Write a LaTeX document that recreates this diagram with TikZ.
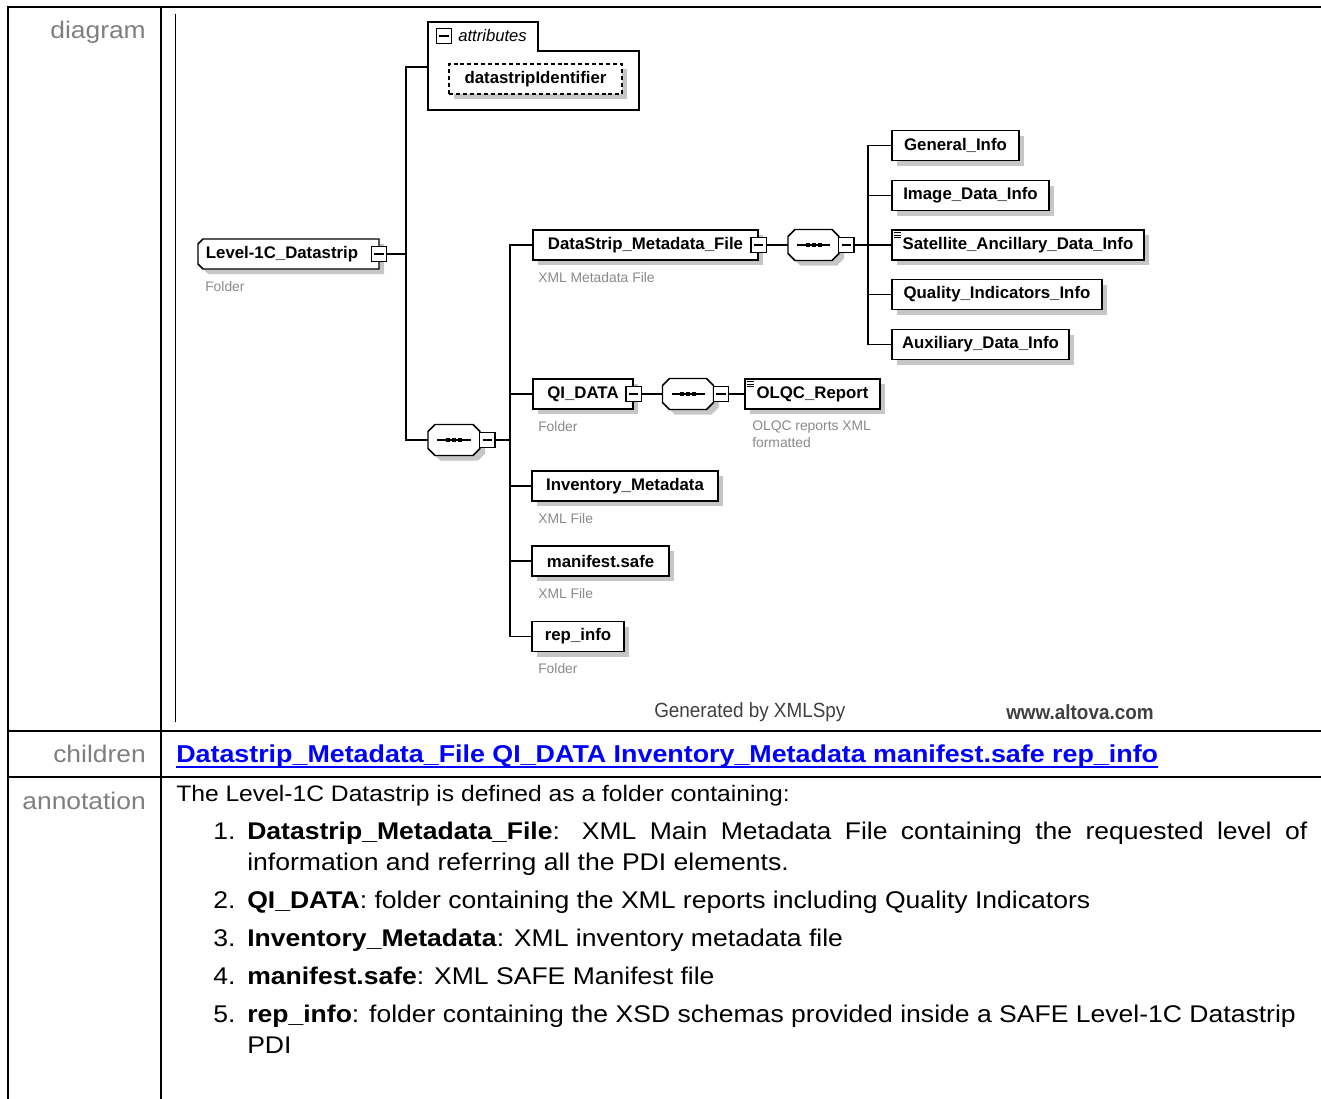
\documentclass[tikz,border=0pt]{standalone}
\usepackage{fontspec}
\setmainfont{Liberation Sans}
\newfontfamily\widesans{Liberation Sans}[FakeStretch=1.1]
\newfontfamily\narrowsans{Liberation Sans}[FakeStretch=0.92]
\usetikzlibrary{shadows,calc}
\newcommand\fElem{\fontsize{12.6}{15}\selectfont\bfseries}
\newcommand\fAttr{\fontsize{12.5}{14}\selectfont\itshape}
\newcommand\fSub{\fontsize{10.4}{12}\selectfont}
\newcommand\fLab{\widesans\fontsize{18}{21}\selectfont}
\newcommand\fBody{\widesans\fontsize{16.8}{20}\selectfont}
\newcommand\fItem{\widesans\fontsize{18.1}{21}\selectfont}
\newcommand\fLink{\widesans\fontsize{18.3}{22}\selectfont\bfseries}
\newcommand\fFoot{\narrowsans\fontsize{15.4}{18}\selectfont}
\definecolor{labgray}{HTML}{7F7F7F}
\definecolor{subgray}{HTML}{8A8A8A}
\definecolor{shadowgray}{HTML}{C6C6C6}
\definecolor{footgray}{HTML}{404040}
\definecolor{linkblue}{HTML}{0000FF}
\newcommand\compositor[1]{%
  \fill[shadowgray] ($(#1.north west)+(12,5)$) -- ($(#1.north east)+(-2,5)$) -- ($(#1.north east)+(5,12)$) -- ($(#1.south east)+(5,-2)$) -- ($(#1.south east)+(-2,5)$) -- ($(#1.south west)+(12,5)$) -- ($(#1.south west)+(5,-2)$) -- ($(#1.north west)+(5,12)$) -- cycle;
  \draw[line width=1.1pt, fill=white] ($(#1.north west)+(7,0)$) -- ($(#1.north east)+(-7,0)$) -- ($(#1.north east)+(0,7)$) -- ($(#1.south east)+(0,-7)$) -- ($(#1.south east)+(-7,0)$) -- ($(#1.south west)+(7,0)$) -- ($(#1.south west)+(0,-7)$) -- ($(#1.north west)+(0,7)$) -- cycle;
  \draw[line width=0.9pt] ($(#1.west)+(9,0)$) -- ($(#1.east)+(-9,0)$);
  \foreach \d in {-6,0,6} \fill ($(#1.center)+(\d-2,-2)$) rectangle +(4,4);
}
\begin{document}
\begin{tikzpicture}[x=0.75pt,y=-0.75pt,
  conn/.style={line width=1.1pt},
  bw/.style={minimum width=#1*0.75pt},
  elem/.style={draw, fill=white, line width=1.1pt, inner sep=0pt, minimum height=22.5pt, font=\fElem,
    general shadow={fill=shadowgray, shadow xshift=3.75pt, shadow yshift=-3.75pt}},
  minusbox/.style={draw, fill=white, line width=0.9pt, minimum size=11.5pt, inner sep=0pt,
    path picture={\draw[line width=0.9pt] ([xshift=2.2pt]path picture bounding box.west) -- ([xshift=-2.2pt]path picture bounding box.east);}},
  sub/.style={font=\fSub, text=subgray, anchor=west, inner sep=0pt},
  lab/.style={font=\fLab, text=labgray, anchor=base east, inner sep=0pt},
  body/.style={font=\fBody, anchor=base west, inner sep=0pt},
  item/.style={font=\fItem, anchor=base west, inner sep=0pt},
  ghost/.style={inner sep=0pt, outer sep=0pt},
  icon/.style={line width=0.5pt}
]
\useasboundingbox (0,0) rectangle (1321,1099);

% ---------- table frame ----------
\draw[line width=1.6pt] (8,1099) -- (8,7) -- (1321,7);
\draw[line width=1.6pt] (161,7) -- (161,1099);
\draw[line width=1.6pt] (8,731) -- (1321,731);
\draw[line width=1.6pt] (8,777) -- (1321,777);
\draw[line width=0.75pt] (175,14) -- (175,722);

\node[lab] (ldiag) at (146,39) {diagram};
\node[lab] (lkids) at (146,762) {children};
\node[lab] (lanno) at (146,809) {annotation};

% ---------- root ----------
\node[ghost, minimum width=181*0.75pt, minimum height=22.5pt] (lvl) at (288.5,254) {};
\fill[shadowgray] ($(lvl.north west)+(10,5)$) -- ($(lvl.north east)+(5,5)$) -- ($(lvl.south east)+(5,5)$) -- ($(lvl.south west)+(10,5)$) -- ($(lvl.south west)+(5,0)$) -- ($(lvl.north west)+(5,10)$) -- cycle;
\draw[line width=1.1pt, fill=white] ($(lvl.north west)+(5,0)$) -- (lvl.north east) -- (lvl.south east) -- ($(lvl.south west)+(5,0)$) -- ($(lvl.south west)+(0,-5)$) -- ($(lvl.north west)+(0,5)$) -- cycle;
\node[font=\fElem, inner sep=0pt] (lvlt) at (282,254) {Level-1C\_Datastrip};
\node[minusbox] (lvlm) at (lvl.east) {};
\node[sub] (lvls) at (205,287) {Folder};

% ---------- attributes ----------
\node[ghost, minimum width=211*0.75pt, minimum height=59*0.75pt] (attr) at (533.5,80.5) {};
\node[ghost, minimum width=110*0.75pt, minimum height=29*0.75pt] (attrtab) at (483,36.5) {};
\draw[line width=1.1pt] (attr.south west) -- (attrtab.north west) -- (attrtab.north east) -- (attrtab.south east) -- (attr.north east) -- (attr.south east) -- cycle;
\node[minusbox] (attrm) at (444,36) {};
\node[font=\fAttr, inner sep=0pt, anchor=west] (attrl) at (458,36) {attributes};
\node[elem, bw=173, dashed, dash pattern=on 3pt off 2.2pt, line width=0.9pt] (dsid) at (535.5,79) {datastripIdentifier};

% ---------- main sequence ----------
\node[ghost, minimum width=52*0.75pt, minimum height=31*0.75pt] (seq) at (454,440) {};
\compositor{seq}
\node[minusbox, anchor=west] (seqm) at ([xshift=-0.75pt]seq.east) {};

\coordinate (j1) at (406,254);
\coordinate (attrin) at (428,67);
\coordinate (t2) at (510,440);
\draw[conn] (lvlm.east) -- (j1);
\draw[conn] (attrin) -| (j1) |- (seq.west);
\draw[conn] (seqm.east) -- (t2);

% ---------- DataStrip_Metadata_File ----------
\node[elem, bw=225] (dmf) at (645.5,245) {DataStrip\_Metadata\_File\hspace{6pt}};
\node[minusbox] (dmfm) at (dmf.east) {};
\node[sub] (dmfs) at (538,278) {XML Metadata File};

\node[ghost, minimum width=51*0.75pt, minimum height=31*0.75pt] (comp1) at (813.5,245) {};
\compositor{comp1}
\node[minusbox, anchor=west] (c1m) at ([xshift=-0.75pt]comp1.east) {};
\draw[conn] (dmfm.east) -- (comp1.west);

\node[elem, bw=127] (gen) at (955.5,145.5) {General\_Info};
\node[elem, bw=157] (img) at (970.5,195.5) {Image\_Data\_Info};
\node[elem, bw=252] (sat) at (1018,245) {Satellite\_Ancillary\_Data\_Info};
\node[elem, bw=210] (qua) at (997,294.5) {Quality\_Indicators\_Info};
\node[elem, bw=177] (aux) at (980.5,344.5) {Auxiliary\_Data\_Info};
\foreach \k in {0,1,2} \draw[icon] ($(sat.north west)+(3,3.5+2.4*\k)$) -- +(7,0);

\coordinate (t3) at (868,245);
\draw[conn] (c1m.east) -- (t3);
\draw[conn] (gen.west) -| (t3) |- (aux.west);
\draw[conn] (img.west) -- (img.west -| t3);
\draw[conn] (sat.west) -- (t3);
\draw[conn] (qua.west) -- (qua.west -| t3);

% ---------- QI_DATA ----------
\node[elem, bw=100] (qi) at (583,394) {QI\_DATA\hspace{6pt}};
\node[minusbox] (qim) at (qi.east) {};
\node[sub] (qis) at (538,427) {Folder};
\node[ghost, minimum width=51*0.75pt, minimum height=31*0.75pt] (comp2) at (688,394) {};
\compositor{comp2}
\node[minusbox, anchor=west] (c2m) at ([xshift=-0.75pt]comp2.east) {};
\node[elem, bw=135] (olqc) at (812.5,394) {OLQC\_Report};
\foreach \k in {0,1,2} \draw[icon] ($(olqc.north west)+(3,3.5+2.4*\k)$) -- +(7,0);
\node[sub] (olqcs1) at (752,427) {OLQC reports XML};
\node[sub] (olqcs2) at (752,443) {formatted};
\draw[conn] (qim.east) -- (comp2.west);
\draw[conn] (c2m.east) -- (olqc.west);

% ---------- other children ----------
\node[elem, bw=186] (inv) at (625,486) {Inventory\_Metadata};
\node[sub] (invs) at (538,519) {XML File};
\node[elem, bw=137] (man) at (600.5,561) {manifest.safe};
\node[sub] (mans) at (538,594) {XML File};
\node[elem, bw=92] (rep) at (578,636.5) {rep\_info};
\node[sub] (reps) at (538,669) {Folder};

\draw[conn] (dmf.west) -| (t2) |- (rep.west);
\draw[conn] (qi.west) -- (qi.west -| t2);
\draw[conn] (inv.west) -- (inv.west -| t2);
\draw[conn] (man.west) -- (man.west -| t2);

% ---------- footer ----------
\node[font=\fFoot, text=footgray, anchor=west, inner sep=0pt] (gby) at (654,712) {Generated by XMLSpy};
\node[font=\fFoot\bfseries, text=footgray, anchor=west, inner sep=0pt] (alt) at (1006,712) {www.altova.com};

% ---------- children row ----------
\node[font=\fLink, text=linkblue, anchor=base west, inner sep=0pt] (kids) at (176,762) {Datastrip\_Metadata\_File QI\_DATA Inventory\_Metadata manifest.safe rep\_info};
\draw[linkblue, line width=1.9pt] ([yshift=-3.6pt]kids.base west) -- ([yshift=-3.6pt]kids.base east);

% ---------- annotation ----------
\node[body] (a0) at (176,801) {The Level-1C Datastrip is defined as a folder containing:};
\node[item] (n1) at (213,839) {1.};
\node[item] (i1a) at (247,839) {\makebox[795pt][s]{\textbf{Datastrip\_Metadata\_File}: XML Main Metadata File containing the requested level of}};
\node[item] (i1b) at (247,870) {information and referring all the PDI elements.};
\node[item] (n2) at (213,908) {2.};
\node[item] (i2) at (247,908) {\textbf{QI\_DATA}: folder containing the XML reports including Quality Indicators};
\node[item] (n3) at (213,946) {3.};
\node[item] (i3) at (247,946) {\textbf{Inventory\_Metadata}: XML inventory metadata file};
\node[item] (n4) at (213,984) {4.};
\node[item] (i4) at (247,984) {\textbf{manifest.safe}: XML SAFE Manifest file};
\node[item] (n5) at (213,1022) {5.};
\node[item] (i5a) at (247,1022) {\textbf{rep\_info}: folder containing the XSD schemas provided inside a SAFE Level-1C Datastrip};
\node[item] (i5b) at (247,1053) {PDI};
\end{tikzpicture}
\end{document}
